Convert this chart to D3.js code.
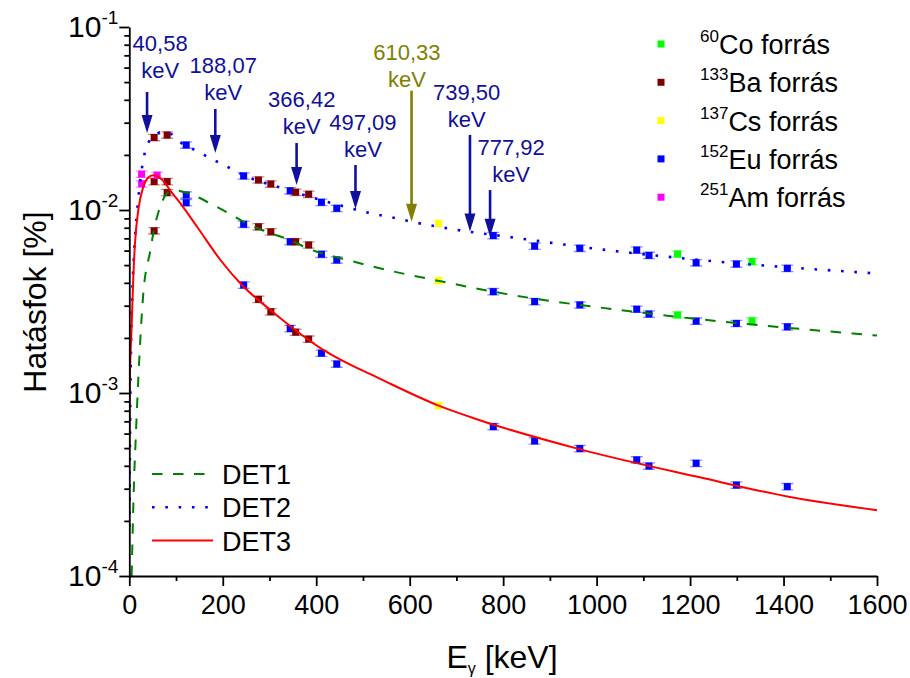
<!DOCTYPE html>
<html>
<head>
<meta charset="utf-8">
<script src="https://cdn.jsdelivr.net/npm/d3@7"></script>
<style>
  html, body { margin: 0; padding: 0; background: #fff; }
  svg { display: block; font-family: "Liberation Sans", Arial, sans-serif; }
</style>
</head>
<body>
<svg id="chart" width="910" height="678"></svg>
<script>
/* Detector efficiency vs. gamma energy, three detectors, log y. */

/* ---------- DATA ---------- */

// measured points, per source
const euE    = [121.78, 244.70, 344.28, 411.12, 443.96, 778.90, 867.37, 964.08, 1085.84, 1112.08, 1212.95, 1299.14, 1408.01];
const euDet1 = [0.01208, 0.00836, 0.00671, 0.00573, 0.00533, 0.00358, 0.00316, 0.00303, 0.00287, 0.00270, 0.00247, 0.00240, 0.00230];
const euDet2 = [0.02265, 0.01535, 0.01274, 0.01102, 0.01021, 0.00725, 0.00635, 0.00618, 0.00604, 0.00565, 0.00515, 0.00507, 0.00480];
const euDet3 = [0.01096, 0.00389, 0.00225, 0.00165, 0.00144, 0.000655, 0.000547, 0.000497, 0.000431, 0.000399, 0.000413, 0.000314, 0.000308];

const baE    = [53.16, 80.99, 276.40, 302.85, 356.01, 383.85];
const baDet1 = [0.0077, 0.01245, 0.0081, 0.0076, 0.00671, 0.00644];
const baDet2 = [0.0249, 0.0257, 0.01459, 0.01387, 0.0125, 0.01219];
const baDet3 = [0.0143, 0.0143, 0.00325, 0.00278, 0.00215, 0.00197];

const csE    = [661.66];
const csDet1 = [0.00411];
const csDet2 = [0.00845];
const csDet3 = [0.000853];

const coE    = [1173.23, 1332.49];
const coDet1 = [0.00267, 0.00248];
const coDet2 = [0.00575, 0.00523];

const amE    = [26.34, 59.54];
const amDet2 = [0.0157, null];
const amDet3 = [0.0139, 0.0155];

const relErr = 0.04;

// fitted curves
const det1E = [5, 10.7, 13, 19.5, 30, 45, 52, 66, 87, 98, 135, 175, 216, 251, 294, 344, 380, 472, 558, 660, 808, 1080, 1600];
const det1V = [1e-4, 3.66e-4, 5.1e-4, 1.23e-3, 3.5e-3, 6.0e-3, 7.6e-3, 1.04e-2, 1.265e-2, 1.28e-2, 1.21e-2, 1.08e-2, 9.5e-3, 8.45e-3, 7.6e-3, 6.85e-3, 6.2e-3, 5.29e-3, 4.66e-3, 4.11e-3, 3.47e-3, 2.78e-3, 2.06e-3];

const det2E = [0.3, 2, 4, 7, 10.5, 17, 26.5, 37, 52, 70, 90, 105, 151, 176, 198, 223, 244, 327, 466, 516, 570, 604, 702, 808, 1008, 1222, 1600];
const det2V = [1.85e-4, 8e-4, 2.0e-3, 3.8e-3, 6.0e-3, 1.0e-2, 1.656e-2, 2.22e-2, 2.52e-2, 2.67e-2, 2.6e-2, 2.39e-2, 2.065e-2, 1.9e-2, 1.784e-2, 1.654e-2, 1.553e-2, 1.315e-2, 1.035e-2, 9.6e-3, 9.02e-3, 8.63e-3, 7.78e-3, 7.15e-3, 6.1e-3, 5.33e-3, 4.50e-3];

const det3E = [0.1, 1, 5, 8.6, 12.2, 19.3, 30, 40, 51.4, 65, 77, 87, 109, 145, 195, 241, 302, 355, 409, 444, 537, 662, 750, 965, 1221, 1408, 1600];
const det3V = [4.9e-4, 1.1e-3, 2.3e-3, 4.3e-3, 6.6e-3, 1.0e-2, 1.34e-2, 1.5e-2, 1.55e-2, 1.5e-2, 1.4e-2, 1.285e-2, 1.089e-2, 8.1e-3, 5.33e-3, 3.89e-3, 2.84e-3, 2.21e-3, 1.76e-3, 1.56e-3, 1.194e-3, 8.53e-4, 7.1e-4, 4.92e-4, 3.46e-4, 2.72e-4, 2.29e-4];

// peak annotations: label, arrow energy, arrow tip / tail efficiency, label position
const peakLabels = ["40,58", "188,07", "366,42", "497,09", "610,33", "739,50", "777,92"];
const peakArrowE = [38, 184, 358, 484, 604, 729, 772];
const peakTipV   = [0.02634, 0.02046, 0.01371, 0.01013, 0.00863, 0.00764, 0.00715];
const peakTopV   = [0.04413, 0.03565, 0.02322, 0.01761, 0.04487, 0.02571, 0.01285];
const peakLabelE = [66, 201, 369, 500, 594, 722, 817];
const peakLabelV = [0.05233, 0.03967, 0.02586, 0.01960, 0.04729, 0.02859, 0.01414];
const peakGroup  = ["eu", "eu", "eu", "eu", "cs", "eu", "eu"];

const xTicks = [0, 200, 400, 600, 800, 1000, 1200, 1400, 1600];
const yTicks = [1e-4, 1e-3, 1e-2, 1e-1];
const yTickExp = ["-4", "-3", "-2", "-1"];

/* ---------- SETUP ---------- */

const svg = d3.select("#chart");
const FONT = "'Liberation Sans', Arial, sans-serif";

const x = d3.scaleLinear().domain([0, 1600]).range([129.3, 877]);
const y = d3.scaleLog().domain([1e-4, 1e-1]).range([576, 27]);

const srcColor = { co: "#00ff00", ba: "#800000", cs: "#ffff00", eu: "#0000ff", am: "#ff00ff" };
const annColor = { eu: "#10109a", cs: "#808000" };

svg.append("defs").append("clipPath").attr("id", "plot")
  .append("rect").attr("x", x(0)).attr("y", 20).attr("width", x(1600) - x(0) + 2).attr("height", y(1e-4) - 20);

/* ---------- POINTS ---------- */

function pointsOf(es, vs, key) {
  const out = [];
  es.forEach(function (e, i) { if (vs[i] != null) out.push({ e: e, v: vs[i], key: key }); });
  return out;
}

const points = [].concat(
  pointsOf(euE, euDet1, "eu"), pointsOf(euE, euDet2, "eu"), pointsOf(euE, euDet3, "eu"),
  pointsOf(baE, baDet1, "ba"), pointsOf(baE, baDet2, "ba"), pointsOf(baE, baDet3, "ba"),
  pointsOf(csE, csDet1, "cs"), pointsOf(csE, csDet2, "cs"), pointsOf(csE, csDet3, "cs"),
  pointsOf(coE, coDet1, "co"), pointsOf(coE, coDet2, "co"),
  pointsOf(amE, amDet2, "am"), pointsOf(amE, amDet3, "am")
);

const MS = 7;
const pointLayer = svg.append("g");
const pg = pointLayer.selectAll("g").data(points).enter().append("g");

// error bars: vertical line + two caps, light
pg.append("path")
  .attr("d", function (d) {
    const cx = x(d.e), y1 = y(d.v * (1 + relErr)), y2 = y(d.v * (1 - relErr));
    return "M" + cx + "," + y1 + "V" + y2 +
      "M" + (cx - 6) + "," + y1 + "H" + (cx + 6) +
      "M" + (cx - 6) + "," + y2 + "H" + (cx + 6);
  })
  .attr("stroke", function (d) { return srcColor[d.key]; })
  .attr("stroke-opacity", 0.45)
  .attr("stroke-width", 1.3)
  .attr("fill", "none");

pg.append("rect")
  .attr("x", function (d) { return x(d.e) - MS / 2; })
  .attr("y", function (d) { return y(d.v) - MS / 2; })
  .attr("width", MS).attr("height", MS)
  .attr("fill", function (d) { return srcColor[d.key]; });

/* ---------- CURVES ---------- */

const line = d3.line()
  .x(function (d) { return x(d[0]); })
  .y(function (d) { return y(d[1]); })
  .curve(d3.curveMonotoneX);

const curves = [
  { e: det1E, v: det1V, color: "#008000", dash: "10.5,10.5", width: 2 },
  { e: det2E, v: det2V, color: "#0000ff", dash: "2.6,10.7", width: 2.6 },
  { e: det3E, v: det3V, color: "#ff0000", dash: null, width: 2 }
];

const curveLayer = svg.append("g").attr("clip-path", "url(#plot)");
curves.forEach(function (c) {
  curveLayer.append("path")
    .attr("d", line(c.e.map(function (e, i) { return [e, c.v[i]]; })))
    .attr("fill", "none")
    .attr("stroke", c.color)
    .attr("stroke-width", c.width)
    .attr("stroke-dasharray", c.dash);
});

/* ---------- AXES ---------- */

const xAxis = svg.append("g").attr("transform", "translate(0," + y(1e-4) + ")");
xAxis.call(d3.axisBottom(x).tickValues(xTicks).tickSize(10).tickSizeOuter(0).tickFormat(d3.format("d")));
xAxis.append("g").call(d3.axisBottom(x).tickValues(d3.range(100, 1600, 200)).tickSize(5).tickFormat(""))
  .select(".domain").remove();

const yAxis = svg.append("g").attr("transform", "translate(" + x(0) + ",0)");
yAxis.call(d3.axisLeft(y).tickValues(yTicks).tickSize(10).tickSizeOuter(0).tickFormat(""));
const yMinor = [];
[1e-4, 1e-3, 1e-2].forEach(function (dec) {
  for (let k = 2; k <= 9; k++) yMinor.push(dec * k);
});
yAxis.append("g").call(d3.axisLeft(y).tickValues(yMinor).tickSize(5).tickFormat(""))
  .select(".domain").remove();

svg.selectAll(".domain, .tick line").attr("stroke", "#000").attr("stroke-width", 1.8);
xAxis.selectAll(".tick text")
  .attr("font-family", FONT).attr("font-size", 27).attr("fill", "#000")
  .attr("dy", null).attr("y", 38);

yTicks.forEach(function (v, i) {
  const t = svg.append("text")
    .attr("x", x(0) - 11).attr("y", y(v) + 10)
    .attr("text-anchor", "end").attr("font-family", FONT).attr("fill", "#000");
  t.append("tspan").attr("font-size", 30).text("10");
  t.append("tspan").attr("font-size", 19).attr("dy", -13).text(yTickExp[i]);
});

// axis titles
const xt = svg.append("text")
  .attr("x", 502).attr("y", 668).attr("text-anchor", "middle")
  .attr("font-family", FONT).attr("font-size", 32).attr("fill", "#000");
xt.append("tspan").text("E");
xt.append("tspan").attr("font-size", 16).attr("dy", 6).text("γ");
xt.append("tspan").attr("dy", -6).text(" [keV]");

svg.append("text")
  .attr("transform", "translate(46," + 302 + ") rotate(-90)")
  .attr("text-anchor", "middle")
  .attr("font-family", FONT).attr("font-size", 32).attr("fill", "#000")
  .text("Hatásfok [%]");

/* ---------- ANNOTATIONS ---------- */

const annLayer = svg.append("g");
peakLabels.forEach(function (lab, i) {
  const col = annColor[peakGroup[i]];
  const ax = x(peakArrowE[i]);
  const tip = y(peakTipV[i]);
  const top = y(peakTopV[i]);
  const headH = 18, headW = 5.5;
  annLayer.append("line")
    .attr("x1", ax).attr("x2", ax).attr("y1", top).attr("y2", tip - headH + 2)
    .attr("stroke", col).attr("stroke-width", 2.6);
  annLayer.append("path")
    .attr("d", "M" + (ax - headW) + "," + (tip - headH) + "L" + (ax + headW) + "," + (tip - headH) + "L" + ax + "," + tip + "Z")
    .attr("fill", col);
  const lx = x(peakLabelE[i]);
  const ly = y(peakLabelV[i]);
  annLayer.append("text")
    .attr("x", lx).attr("y", ly - 27).attr("text-anchor", "middle")
    .attr("font-family", FONT).attr("font-size", 22).attr("fill", col).text(lab);
  annLayer.append("text")
    .attr("x", lx).attr("y", ly).attr("text-anchor", "middle")
    .attr("font-family", FONT).attr("font-size", 22).attr("fill", col).text("keV");
});

/* ---------- LEGENDS ---------- */

const srcLegend = [
  { key: "co", sup: "60", name: "Co forrás" },
  { key: "ba", sup: "133", name: "Ba forrás" },
  { key: "cs", sup: "137", name: "Cs forrás" },
  { key: "eu", sup: "152", name: "Eu forrás" },
  { key: "am", sup: "251", name: "Am forrás" }
];
const lg = svg.append("g").attr("transform", "translate(661,44)");
srcLegend.forEach(function (s, i) {
  const ry = i * 38.3;
  lg.append("rect").attr("x", -MS / 2).attr("y", ry - MS / 2).attr("width", MS).attr("height", MS)
    .attr("fill", srcColor[s.key]);
  const t = lg.append("text").attr("x", 39).attr("y", ry + 10)
    .attr("font-family", FONT).attr("fill", "#000");
  t.append("tspan").attr("font-size", 17).attr("dy", -12).text(s.sup);
  t.append("tspan").attr("font-size", 27).attr("dy", 12).text(s.name);
});

const detLegend = ["DET1", "DET2", "DET3"];
const dl = svg.append("g").attr("transform", "translate(152,474)");
detLegend.forEach(function (name, i) {
  const ry = i * 33.3;
  const c = curves[i];
  dl.append("line").attr("x1", 0).attr("x2", 61).attr("y1", ry).attr("y2", ry)
    .attr("stroke", c.color).attr("stroke-width", c.width).attr("stroke-dasharray", c.dash);
  dl.append("text").attr("x", 70).attr("y", ry + 10)
    .attr("font-family", FONT).attr("font-size", 27).attr("fill", "#000").text(name);
});
</script>
</body>
</html>
